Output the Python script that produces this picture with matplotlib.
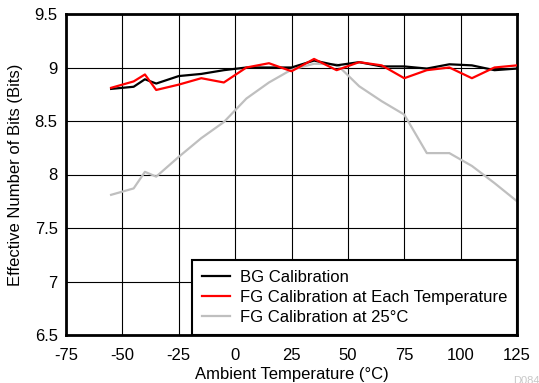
import matplotlib
matplotlib.use("Agg")
import matplotlib.pyplot as plt

plt.rcParams['font.family'] = ['Liberation Sans', 'DejaVu Sans']

temps = [-55, -45, -40, -35, -25, -15, -5, 5, 15, 25, 35, 45, 55, 65, 75, 85, 95, 105, 115, 125]
bg_cal = [8.80, 8.82, 8.89, 8.85, 8.92, 8.94, 8.975, 9.0, 9.0, 9.0, 9.065, 9.02, 9.05, 9.01, 9.01, 8.99, 9.03, 9.02, 8.975, 8.99]
fg_each = [8.81, 8.87, 8.935, 8.79, 8.84, 8.90, 8.86, 9.0, 9.04, 8.965, 9.08, 8.975, 9.05, 9.02, 8.90, 8.975, 9.0, 8.90, 9.0, 9.02]
fg_25 = [7.81, 7.87, 8.025, 7.98, 8.165, 8.34, 8.49, 8.71, 8.86, 8.98, 9.035, 9.03, 8.825, 8.685, 8.56, 8.2, 8.2, 8.08, 7.92, 7.75]

labels = ["BG Calibration", "FG Calibration at Each Temperature", "FG Calibration at 25\u00b0C"]
xticks = [-75, -50, -25, 0, 25, 50, 75, 100, 125]
yticks = [6.5, 7, 7.5, 8, 8.5, 9, 9.5]

W, H = 539, 383
fig = plt.figure(figsize=(W / 100, H / 100), dpi=100)
ax = fig.add_axes([66 / W, 1 - 335 / H, (517 - 66) / W, (335 - 14) / H])

ax.plot(temps, bg_cal, color='black', lw=1.6, label=labels[0], zorder=3)
ax.plot(temps, fg_each, color='#ff0000', lw=1.6, label=labels[1], zorder=4)
ax.plot(temps, fg_25, color='#bfbfbf', lw=1.6, label=labels[2], zorder=2)

ax.set_xlim(-75, 125)
ax.set_ylim(6.5, 9.5)
ax.set_xticks(xticks)
ax.set_xticklabels([str(t) for t in xticks])
ax.set_yticks(yticks)
ax.set_yticklabels([("%g" % t) for t in yticks])
ax.tick_params(length=0, labelsize=12)
ax.tick_params(axis='x', pad=9)
ax.tick_params(axis='y', pad=6)
ax.grid(True, color='black', lw=0.8)
ax.set_axisbelow(True)
for s in ax.spines.values():
    s.set_linewidth(2)
    s.set_color('black')

ax.set_xlabel("Ambient Temperature (\u00b0C)", fontsize=12, labelpad=3)
ax.set_ylabel("Effective Number of Bits (Bits)", fontsize=12, labelpad=8)

leg = ax.legend(loc='lower right', borderaxespad=0, fontsize=12, frameon=True,
                fancybox=False, handlelength=1.7, handletextpad=0.55,
                labelspacing=0.3, borderpad=0.6)
leg.get_frame().set_edgecolor('black')
leg.get_frame().set_linewidth(1.5)
leg.get_frame().set_alpha(1)
leg.set_zorder(10)

fig.text(513 / W, 1 - 376 / H, "D084", fontsize=8, color='#c8c8c8', ha='left', va='top')

fig.savefig("out.png", dpi=100)
